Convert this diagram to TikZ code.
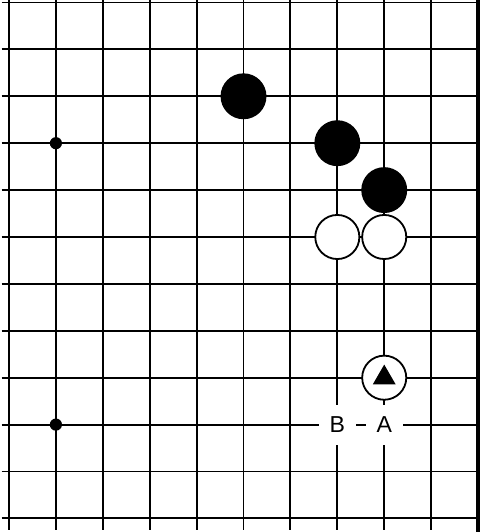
\documentclass[tikz,border=0pt]{standalone}
\usepackage{fontspec}
\setmainfont{Liberation Sans}
\usetikzlibrary{shapes.geometric}
\tikzset{
  grid-line/.style={
    line width=1.15pt,
    draw=black
  },
  board-edge/.style={
    line width=2.2pt,
    draw=black
  },
  stone/.style={circle, line width=1.1pt, draw=black, minimum size=0.94cm, inner sep=0pt},
  stone-black/.style={stone, fill=black},
  stone-white/.style={stone, fill=white},
  hoshi/.style={circle, fill=black, minimum size=0.26cm, inner sep=0pt},
  tri-mark/.style={regular polygon, regular polygon sides=3, fill=black, minimum size=0.56cm, inner sep=0pt},
  point-label/.style={fill=white, inner sep=0pt, minimum width=0.78cm, minimum height=0.85cm, font=\fontsize{14}{16}\selectfont}
}

\begin{document}
\begin{tikzpicture}
  \useasboundingbox (-0.192,0.053) rectangle (10.043,-11.29);

  % Grid
  \foreach \j in {0,...,11} {
    \draw[grid-line] (-0.16,-\j) -- (10,-\j);
  }
  \foreach \i in {0,...,9} {
    \draw[grid-line] (\i,0.053) -- (\i,-11.25);
  }
  % Board edge
  \draw[board-edge] (10,0.053) -- (10,-11.29);

  % Star points
  \node[hoshi] (H1) at (1,-3) {};
  \node[hoshi] (H2) at (1,-9) {};

  % Black stones
  \foreach \x/\y/\n in {5/2/B1, 7/3/B2, 8/4/B3} {
    \node[stone-black] (\n) at (\x,-\y) {};
  }
  % White stones
  \foreach \x/\y/\n in {7/5/W1, 8/5/W2, 8/8/W3} {
    \node[stone-white] (\n) at (\x,-\y) {};
  }
  \node[tri-mark] (T) at (W3) {};

  % Labels
  \node[point-label] (LB) at (7,-9) {B};
  \node[point-label] (LA) at (8,-9) {A};
\end{tikzpicture}
\end{document}
